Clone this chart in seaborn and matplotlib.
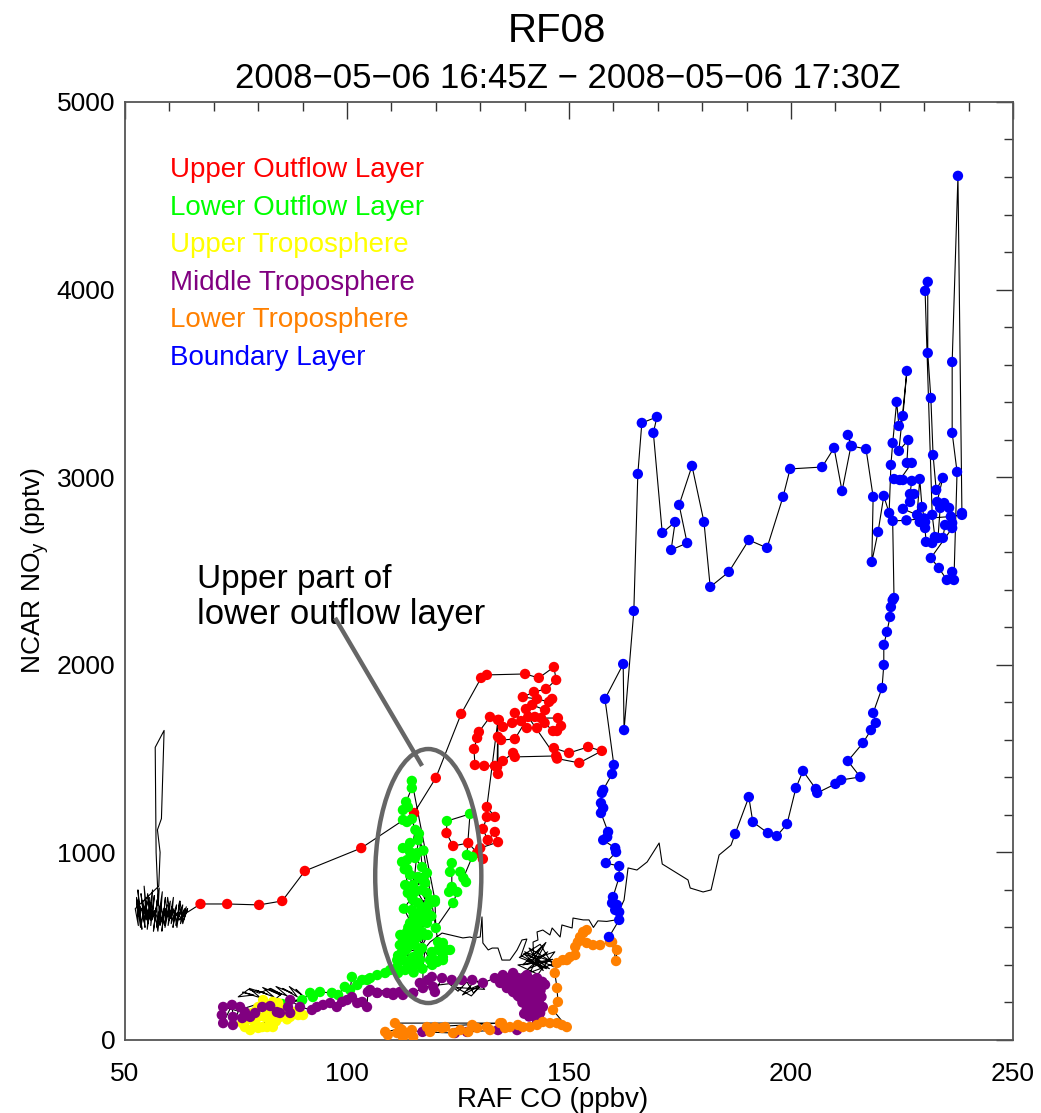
import matplotlib
matplotlib.use('Agg')
import matplotlib.pyplot as plt
import pandas as pd
import seaborn as sns
from matplotlib.patches import Ellipse
from matplotlib.ticker import MultipleLocator

# ---- data read off the RF08 CO / NOy scatter (in flight order) ----
# unclassified start: low CO, NOy ~700 with a short spike
black_start_co = [57.5, 57.0, 56.8, 58.8, 58.2, 57.3, 57.9, 57.6,
                  52.3, 53.0, 52.6, 53.4, 52.9, 53.8, 53.2, 54.1, 53.6, 54.5,
                  54.0, 54.8, 54.3, 55.2, 54.7, 55.5, 55.0, 55.9, 55.3, 56.2,
                  55.8, 56.6, 56.1, 57.0, 56.4, 57.3, 56.9, 57.7, 57.2, 58.0,
                  57.5, 58.4, 57.9, 58.8, 58.3, 59.1, 58.6, 59.5, 59.0, 59.8,
                  59.3, 60.2, 59.7, 60.6, 60.0, 60.9, 60.4, 61.3, 60.8, 61.6,
                  61.1, 62.0, 61.5, 62.3, 61.8, 62.7, 62.2, 63.0, 62.5, 63.4,
                  62.9, 63.8, 63.2, 64.1, 63.5, 63.0, 62.4, 61.7, 61.0, 60.3,
                  59.6, 58.9, 58.1, 57.4, 56.6, 55.9, 55.1, 54.4, 53.7, 53.0,
                  52.6, 53.5, 54.6, 55.7, 56.8, 57.9, 59.0, 60.1, 61.2, 62.3,
                  63.4, 64.0]
black_start_noy = [720, 1000, 1560, 1650, 1180, 1120, 1000, 820,
                   700, 610, 760, 650, 800, 590, 720, 680, 780, 600,
                   740, 640, 820, 620, 700, 760, 590, 730, 660, 800,
                   610, 770, 640, 700, 580, 750, 680, 810, 600, 720,
                   650, 790, 620, 700, 580, 760, 640, 720, 600, 690,
                   650, 740, 610, 710, 640, 760, 620, 690, 600, 720,
                   650, 680, 610, 740, 630, 700, 660, 720, 620, 690,
                   650, 710, 640, 700, 660, 620, 740, 600, 700, 650,
                   760, 610, 720, 580, 690, 640, 780, 620, 700, 660,
                   750, 600, 720, 640, 680, 610, 700, 650, 690, 640,
                   700, 680]

upper_outflow_co = [67.0, 73.0, 80.2, 85.4, 90.5, 103.2, 115.1, 120.0, 125.7, 130.2, 131.5, 140.1,
                    143.2, 146.6, 147.1, 144.8, 142.1, 139.6, 142.8, 145.5, 146.2, 144.6, 141.7,
                    140.3, 142.3, 143.7, 147.5, 148.2, 147.3, 146.4, 144.5, 142.8, 140.5, 137.8,
                    139.2, 137.2, 135.1, 134.2, 132.2, 129.7, 129.3, 128.6, 128.8, 130.9, 133.3,
                    135.1, 137.4, 137.8, 147.1, 146.6, 150.0, 154.3, 157.4, 152.3, 147.3, 140.8,
                    137.8, 134.7, 134.0, 134.0, 133.8, 134.0, 131.5, 133.3, 131.5, 130.6, 131.7,
                    133.3, 134.0, 130.0, 129.3, 130.6, 127.3, 123.9, 122.4]
upper_outflow_noy = [725, 725, 720, 741, 901, 1023, 1210, 1397, 1738, 1930, 1946, 1951,
                     1930, 1988, 1919, 1871, 1855, 1828, 1818, 1802, 1818, 1759, 1786,
                     1764, 1722, 1716, 1716, 1674, 1647, 1647, 1690, 1663, 1663, 1743,
                     1700, 1690, 1669, 1706, 1722, 1642, 1610, 1551, 1466, 1461, 1461,
                     1487, 1530, 1509, 1514, 1556, 1530, 1562, 1541, 1477, 1500, 1722,
                     1604, 1599, 1616, 1418, 1455, 1706, 1242, 1189, 1189, 1125, 1066,
                     1109, 1055, 1023, 997, 965, 1050, 1034, 1103]

lower_outflow_co = [122.5, 127.7, 127.0, 128.2, 126.2, 126.8, 125.5, 123.2, 123.6, 123.6, 123.0,
                    124.8, 123.9, 120.0, 119.8, 114.6, 114.6, 113.3, 113.7, 112.6, 112.6, 113.5,
                    114.6, 116.0, 114.2, 112.6, 114.2, 115.8, 112.4, 113.5, 115.3, 116.9, 118.0,
                    114.2, 116.0, 117.1, 117.6, 114.9, 113.1, 113.7, 115.3, 116.9, 118.0, 118.7,
                    119.8, 114.9, 116.0, 114.6, 116.4, 118.0, 115.8, 117.1, 114.2, 116.0, 118.0,
                    113.5, 115.3, 116.9, 112.6, 114.6, 116.0, 111.9, 113.7, 115.3, 116.9, 112.6,
                    114.9, 111.3, 113.5, 115.8, 116.0, 117.5, 115.0, 113.0, 117.8, 116.2, 114.0,
                    112.0, 113.8, 115.6, 117.4, 119.0, 112.4, 114.2, 116.2, 118.2, 111.5, 113.3,
                    115.0, 117.0, 119.2, 112.8, 114.6, 116.6, 118.4, 113.6, 115.4, 117.2,
                    120.5, 121.6, 120.5, 119.1, 122.5, 119.8, 121.6, 123.2, 121.6, 120.9, 120.3,
                    118.7, 116.4, 114.9, 114.2, 113.1, 111.5, 112.4, 111.3, 109.7, 108.6, 106.8,
                    105.2, 104.5, 103.4, 102.3, 101.1, 100.7, 99.5, 98.0, 96.6, 93.9, 92.3, 91.7,
                    89.9, 85.4]
lower_outflow_noy = [1167, 1205, 986, 976, 864, 842, 896, 896, 943, 816, 789,
                     789, 730, 597, 746, 1381, 1343, 1269, 1242, 1226, 1173, 1162,
                     1178, 1066, 1050, 1023, 1002, 997, 949, 959, 970, 922, 890,
                     880, 869, 853, 837, 826, 826, 784, 789, 800, 784, 746,
                     736, 746, 730, 693, 682, 682, 656, 650, 624, 613, 624,
                     576, 586, 576, 533, 544, 549, 506, 496, 506, 490, 464,
                     442, 426, 410, 410, 460, 560, 660, 910, 710, 1100, 590,
                     560, 600, 640, 700, 660, 470, 520, 470, 560, 450, 480,
                     360, 380, 400, 700, 760, 860, 720, 910, 1120, 1010,
                     522, 517, 480, 469, 480, 426, 426, 480, 442, 480, 416,
                     426, 426, 389, 426, 373, 357, 426, 389, 373, 357, 346,
                     330, 320, 320, 293, 336, 267, 283, 240, 251, 256, 229, 251,
                     213, 192]

# unclassified squiggle between the lower outflow tail and the upper troposphere
black_mid_co = [90.5, 88.5, 89.8, 87.0, 88.8, 85.5, 87.6, 84.0, 86.5, 82.5, 85.0, 81.0, 83.5, 79.5,
                82.0, 78.0, 80.5, 76.5, 79.0, 75.5, 77.8, 80.2, 82.8, 85.2, 84.0, 81.5, 79.0, 77.0]
black_mid_noy = [225, 270, 240, 285, 230, 275, 250, 285, 235, 270, 240, 280, 230, 265,
                 245, 275, 225, 255, 240, 230, 270, 250, 275, 245, 220, 200, 185, 170]

upper_trop_co = [76.4, 77.0, 78.2, 80.0, 79.3, 78.8, 78.6, 80.0, 81.1, 80.0, 81.5, 82.7, 83.3,
                 82.0, 80.9, 83.1, 83.3, 84.5, 84.9, 86.0, 87.2, 87.8, 89.0, 90.1, 83.3, 81.8,
                 85.5, 79.5, 82.0, 77.5, 88.5, 86.5, 84.0]
upper_trop_noy = [90, 69, 53, 64, 90, 107, 144, 176, 213, 123, 123, 96, 69,
                  69, 69, 176, 203, 197, 123, 133, 123, 144, 133, 133, 144, 160,
                  165, 155, 185, 110, 150, 110, 100]

middle_trop_co = [72.1, 71.8, 72.1, 74.1, 74.3, 74.3, 75.9, 77.0, 76.4, 78.2, 79.3, 80.9, 82.7,
                  84.2, 84.9, 86.7, 87.2, 87.2, 89.4, 92.1, 93.2, 94.6, 96.2, 97.7, 98.9, 100.0,
                  101.1, 102.3, 103.4, 104.5, 104.7, 106.8, 109.0, 110.4, 111.9, 105.2, 106.8,
                  110.4, 112.6, 114.9, 117.1, 116.4, 118.2, 119.1, 119.4, 119.8, 121.4, 123.6,
                  125.9, 128.2, 130.6, 133.3, 135.1, 137.4, 140.5, 142.8, 143.5, 141.9, 143.0,
                  144.1, 143.5, 142.8, 142.3, 141.2, 140.5, 138.9, 137.4, 136.0, 134.5, 136.5,
                  139.0, 141.5, 138.0, 140.0, 142.5, 143.8, 141.0, 142.0, 143.2,
                  136.0, 138.0, 140.0, 142.0, 144.0, 135.5, 137.5, 139.5, 141.5, 143.5, 137.0,
                  139.0, 141.0, 143.0, 138.5, 140.5, 142.5, 139.5, 141.5, 140.5, 142.0, 141.0,
                  136.8, 138.8, 140.8, 142.6, 144.6, 137.6, 139.6, 141.6, 143.6, 138.4, 140.2,
                  142.2, 139.2, 141.2, 143.2, 140.0, 142.0, 141.4, 139.9, 142.9,
                  142.8, 138.3, 134.0, 127.0, 124.3, 117.0]
middle_trop_noy = [176, 133, 90, 187, 123, 80, 176, 149, 117, 123, 144, 176, 181,
                   149, 144, 176, 144, 213, 176, 160, 176, 187, 197, 176, 203, 213,
                   229, 197, 203, 176, 256, 251, 251, 240, 256, 267, 251,
                   251, 240, 251, 277, 304, 320, 336, 283, 256, 330, 320,
                   320, 320, 304, 330, 346, 357, 346, 330, 283, 256, 213,
                   176, 144, 107, 133, 176, 213, 229, 256, 277, 304, 320,
                   300, 290, 250, 270, 240, 230, 190, 160, 120,
                   330, 335, 335, 320, 310, 300, 305, 300, 295, 285, 270,
                   265, 260, 250, 235, 230, 225, 200, 195, 165, 150, 125,
                   315, 320, 315, 305, 295, 285, 280, 275, 265, 255, 250,
                   245, 235, 220, 210, 210, 185, 175, 140, 110,
                   90, 53, 53, 43, 37, 43]

lower_trop_co = [112.0, 108.6, 109.2, 111.3, 112.4, 112.6, 113.7, 114.6, 114.9, 110.8, 134.5,
                 118.0, 118.7, 119.8, 121.4, 122.1, 123.9, 125.5, 127.3, 128.2, 129.3, 131.5,
                 132.2, 134.9, 135.6, 136.7, 138.5, 139.6, 141.2, 142.8, 144.1, 145.7, 147.3,
                 148.4, 149.5, 146.4, 147.5, 147.3, 146.8, 147.3, 148.6, 149.5, 150.2, 151.4,
                 151.4, 152.0, 152.5, 153.2, 154.0, 153.2, 152.5, 154.0, 155.4, 157.0, 159.2,
                 160.8, 160.6, 159.7]
lower_trop_noy = [60, 43, 27, 37, 53, 16, 37, 53, 16, 90, 90,
                  69, 43, 69, 64, 69, 37, 53, 43, 80, 64, 69,
                  53, 90, 64, 69, 80, 69, 69, 80, 96, 90, 90,
                  80, 69, 160, 203, 277, 357, 410, 426, 426, 442, 453,
                  496, 522, 549, 576, 586, 570, 533, 517, 506, 506, 522,
                  480, 421, 522]

boundary_co = [159.0, 161.3, 161.3, 160.4, 160.8, 159.7, 159.9, 161.3, 161.3, 158.3, 160.6, 160.4,
               157.7, 158.6, 158.8, 157.2, 157.7, 157.2, 157.4, 157.7, 159.7, 160.1, 158.1, 162.2,
               162.4, 164.6, 165.5, 166.4, 169.8, 169.0, 171.0, 173.9, 173.0, 176.6, 174.8, 177.7,
               180.4, 181.8, 186.0, 190.5, 194.6, 198.2, 199.8, 207.0, 209.7, 211.5, 213.5, 212.8,
               213.7, 216.9, 218.5, 218.2, 219.6, 220.9, 222.1, 222.5, 222.9, 223.8, 224.3, 225.2,
               226.1, 224.3, 226.4, 226.1, 227.2, 224.5, 223.2, 225.2, 227.2, 226.8, 227.7, 226.8,
               225.2, 228.4, 229.0, 229.5, 230.2, 229.0, 230.2, 230.4, 231.8, 232.4, 231.8, 230.2,
               230.8, 230.8, 231.5, 232.0, 232.7, 234.2, 232.9, 234.5, 235.6, 233.6, 233.1, 234.2,
               234.7, 236.3, 236.3, 231.5, 233.3, 235.1, 236.3, 236.7, 237.4, 236.3, 236.3, 237.6,
               238.5, 238.5, 236.0, 230.0, 226.0, 222.9, 223.2, 222.9, 222.5, 222.3, 221.6, 220.9,
               220.9, 220.5, 218.5, 219.1, 218.0, 216.2, 212.8, 215.6, 211.3, 210.0, 205.9, 205.6,
               202.7, 201.1, 199.1, 196.8, 194.8, 191.4, 190.5, 187.4]
boundary_noy = [549, 640, 682, 693, 720, 730, 762, 869, 927, 943, 1002, 1023,
                1066, 1082, 1109, 1210, 1237, 1263, 1317, 1333, 1418, 1466, 1818, 2004,
                1652, 2287, 3017, 3289, 3321, 3236, 2703, 2761, 2612, 2649, 2852, 3060,
                2761, 2415, 2495, 2665, 2623, 2895, 3044, 3054, 3156, 2926, 3166, 3225,
                3166, 3150, 2895, 2548, 2708, 2900, 2809, 3065, 3182, 3401, 3273, 3326,
                3566, 3140, 3198, 3076, 3076, 2985, 2990, 2985, 2980, 2910, 2910, 2868,
                2831, 2799, 2990, 2841, 2761, 2761, 2729, 2655, 2649, 2681, 2799, 3993,
                4041, 3662, 3422, 3118, 2932, 2996, 2868, 2862, 2836, 2836, 2676, 2676,
                2745, 2756, 2729, 2569, 2516, 2452, 2495, 2452, 3028, 3236, 3614, 4606,
                2809, 2799, 2790, 2780, 2770, 2767, 2356, 2345, 2308, 2255, 2175, 2106,
                1999, 1876, 1743, 1690, 1652, 1583, 1487, 1402, 1386, 1365, 1317, 1338,
                1434, 1343, 1151, 1087, 1103, 1162, 1295, 1098]

# unclassified return leg: thin line back to low CO and the squiggle near the middle troposphere
black_end_co = [186.5, 183.8, 182.0, 180.2, 177.3, 176.8, 171.0, 170.3, 167.6, 165.3, 163.3, 162.4,
                161.5, 160.5, 158.5, 156.5, 155.5, 154.5, 153.2, 150.9, 150.7, 148.4, 148.0, 146.2,
                145.7, 144.1, 142.8, 143.0, 141.9,
                142.0, 144.0, 141.5, 145.2, 140.8, 146.3, 139.6, 144.8, 141.2, 147.0, 140.0, 145.6,
                138.8, 143.5, 146.6, 139.8, 144.2, 141.0, 145.9, 138.5, 143.0, 146.8, 140.4, 144.9,
                139.2, 140.5, 139.4,
                138.3, 136.7, 134.9, 134.0, 132.7, 131.8, 130.6, 130.4, 130.0, 128.4, 127.7, 126.1,
                123.2, 121.4, 118.7, 117.6, 117.1, 117.1, 123.0, 125.0, 127.0, 128.5, 130.0, 126.0,
                129.0, 131.0, 124.5, 128.0, 130.5, 127.0]
black_end_noy = [1039, 986, 800, 789, 810, 853, 938, 1050, 949, 906, 917, 746,
                 700, 640, 632, 635, 600, 640, 640, 650, 597, 613, 549, 597,
                 560, 586, 576, 533, 522,
                 450, 500, 410, 470, 380, 430, 400, 520, 360, 410, 470, 380,
                 440, 510, 390, 460, 370, 490, 420, 400, 350, 470, 420, 380,
                 450, 538, 533,
                 480, 426, 426, 490, 490, 480, 517, 656, 549, 544, 549, 544,
                 560, 570, 522, 490, 389, 283, 300, 260, 310, 250, 290, 240,
                 320, 270, 280, 235, 300, 265]

# legend labels and colours (drawn as coloured text like the original)
layer_names = ['Upper Outflow Layer', 'Lower Outflow Layer', 'Upper Troposphere',
               'Middle Troposphere', 'Lower Troposphere', 'Boundary Layer']
layer_colors = ['#ff0000', '#00ff00', '#ffff00', '#800080', '#ff8000', '#0000ff']

segments = [
    ('none', black_start_co, black_start_noy),
    ('Upper Outflow Layer', upper_outflow_co, upper_outflow_noy),
    ('Lower Outflow Layer', lower_outflow_co, lower_outflow_noy),
    ('none', black_mid_co, black_mid_noy),
    ('Upper Troposphere', upper_trop_co, upper_trop_noy),
    ('Middle Troposphere', middle_trop_co, middle_trop_noy),
    ('Lower Troposphere', lower_trop_co, lower_trop_noy),
    ('Boundary Layer', boundary_co, boundary_noy),
    ('none', black_end_co, black_end_noy),
]

frames = [pd.DataFrame({'co': co, 'noy': noy, 'layer': name}) for name, co, noy in segments]
df = pd.concat(frames, ignore_index=True)

sns.set_style('white')
plt.rcParams['font.family'] = ['Liberation Sans', 'DejaVu Sans']
plt.rcParams['mathtext.default'] = 'regular'
plt.rcParams['text.color'] = 'black'
plt.rcParams['axes.labelcolor'] = 'black'
plt.rcParams['xtick.color'] = 'black'
plt.rcParams['ytick.color'] = 'black'

fig = plt.figure(figsize=(10.41, 11.13), dpi=100)
ax = fig.add_axes([0.1201, 0.0656, 0.8530, 0.8428])

# flight track through every sample, then the coloured layer samples
sns.lineplot(data=df, x='co', y='noy', sort=False, estimator=None, color='black',
             lw=0.8, ax=ax, zorder=2)
sns.scatterplot(data=df[df['layer'] != 'none'], x='co', y='noy', hue='layer',
                hue_order=layer_names, palette=layer_colors, s=56, linewidth=0,
                legend=False, ax=ax, zorder=3)

ax.set_xlim(50, 250)
ax.set_ylim(0, 5000)
ax.xaxis.set_major_locator(MultipleLocator(50))
ax.xaxis.set_minor_locator(MultipleLocator(10))
ax.yaxis.set_major_locator(MultipleLocator(1000))
ax.yaxis.set_minor_locator(MultipleLocator(200))
ax.tick_params(which='both', direction='in', top=True, right=True, color='#333333',
               labelsize=19, width=1)
ax.tick_params(which='major', length=12, pad=7)
ax.tick_params(which='minor', length=6.5)
ax.tick_params(axis='x', which='major', pad=16)
for sp in ax.spines.values():
    sp.set_color('#555555')
    sp.set_linewidth(1.3)

ax.set_xlabel('RAF CO (ppbv)', fontsize=20)
ax.xaxis.set_label_coords(0.481, -0.0715)
ax.xaxis.label.set_va('baseline')
ax.set_ylabel('NCAR NO$_y$ (pptv)', fontsize=19, labelpad=4)

fig.text(0.535, 0.9623, 'RF08', fontsize=29, ha='center', va='baseline')
fig.text(0.545, 0.9209, '2008\u221205\u221206 16:45Z \u2212 2008\u221205\u221206 17:30Z',
         fontsize=25, ha='center', va='baseline')

for i, (name, col) in enumerate(zip(layer_names, layer_colors)):
    ax.text(0.0507, 0.920 - 0.040 * i, name, color=col, fontsize=20,
            transform=ax.transAxes, va='baseline', ha='left')

# annotation: ellipse around the upper part of the lower outflow layer
ax.add_patch(Ellipse((118.3, 874), 23.9, 1354, fill=False, edgecolor='#666666',
                     lw=3.2, zorder=4))
ax.plot([97.3, 116.9], [2250, 1461], color='#666666', lw=3.2, zorder=4,
        solid_capstyle='butt')
ax.text(66.2, 2410, 'Upper part of', fontsize=24, va='baseline')
ax.text(66.2, 2218, 'lower outflow layer', fontsize=25, va='baseline')

fig.savefig('out.png', dpi=100)
